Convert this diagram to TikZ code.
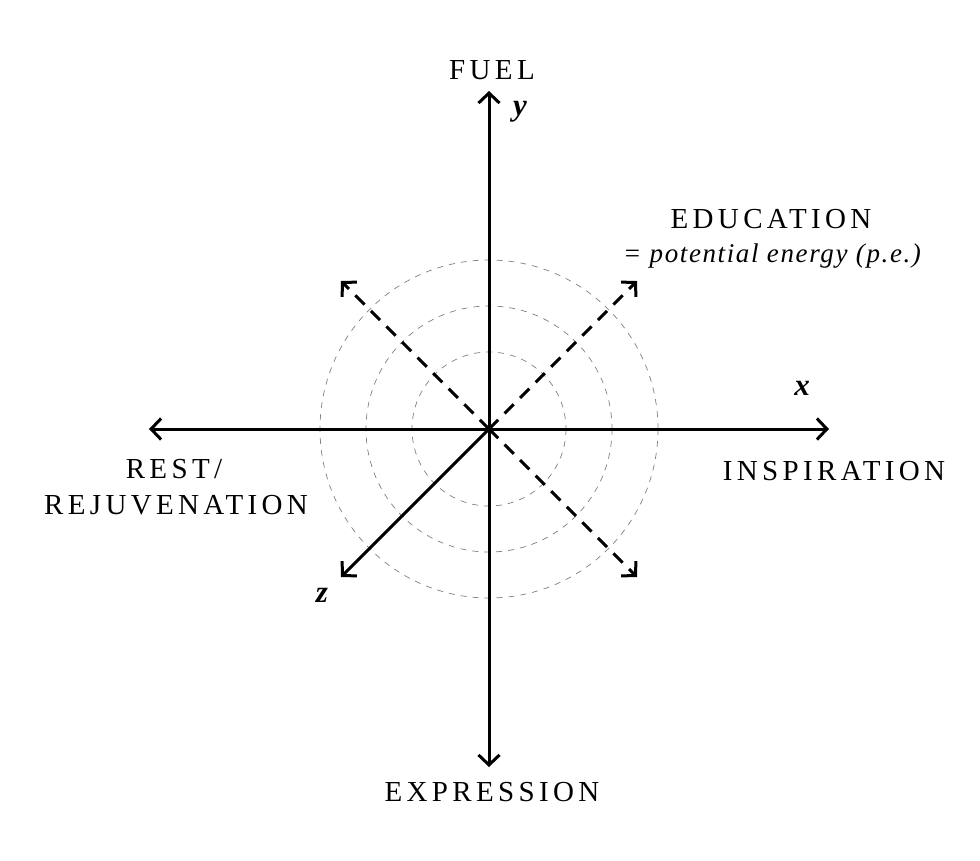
\documentclass[tikz,border=0pt]{standalone}
\usepackage{fontspec}
\setmainfont{Liberation Serif}
\newfontfamily\capsfont[LetterSpace=15]{Liberation Serif}
\newfontfamily\itfont[LetterSpace=6]{Liberation Serif Italic}
\usetikzlibrary{arrows.meta}
\begin{document}
\begin{tikzpicture}[x=1pt,y=-1pt,
  axis/.style={line width=3pt,-{Straight Barb[length=10pt,width=21pt]}},
  diag/.style={axis,dash pattern=on 13pt off 9pt},
  ring/.style={gray,line width=0.7pt,dash pattern=on 6pt off 6pt},
  caps/.style={inner sep=0pt,anchor=base,font=\capsfont\fontsize{29}{34}\selectfont},
  itl/.style={inner sep=0pt,anchor=base,font=\itfont\fontsize{27}{32}\selectfont},
  var/.style={inner sep=0pt,anchor=base,font=\bfseries\itshape\fontsize{31}{34}\selectfont}]
\useasboundingbox[fill=white] (0,0) rectangle (980,860);
\coordinate (O) at (489,429);
\coordinate (top) at (489,91);
\coordinate (bot) at (489,767);
\coordinate (left) at (149,429);
\coordinate (right) at (829,429);
\coordinate (ne) at (637,281);
\coordinate (nw) at (341,281);
\coordinate (se) at (637,577);
\coordinate (sw) at (341,577);
% rings
\draw[ring] (O) circle[radius=77];
\draw[ring] (O) circle[radius=123];
\draw[ring] (O) circle[radius=169];
% axes
\draw[axis] (O) -- (top);
\draw[axis] (O) -- (bot);
\draw[axis] (O) -- (left);
\draw[axis] (O) -- (right);
\draw[axis] (O) -- (sw);
\draw[diag] (O) -- (ne);
\draw[diag] (O) -- (nw);
\draw[diag] (O) -- (se);
% labels
\node[caps] (fuel) at (492,79) {FUEL};
\node[var] (yl) at (520,115) {y};
\node[caps] (edu) at (771,228) {EDUCATION};
\node[itl] (pe) at (772,262) {= potential energy (p.e.)};
\node[var] (xl) at (802,395) {x};
\node[caps] (insp) at (834,480) {INSPIRATION};
\node[caps] (rest) at (174,478) {REST/};
\node[caps] (rej) at (176,514) {REJUVENATION};
\node[var] (zl) at (322,602) {z};
\node[caps] (expr) at (492,801) {EXPRESSION};
\end{tikzpicture}
\end{document}
